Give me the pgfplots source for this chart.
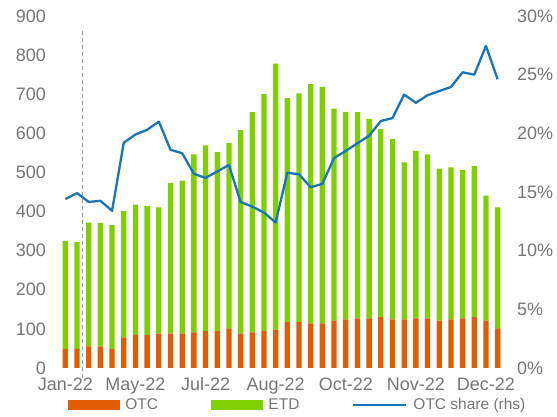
\documentclass[border=0pt]{standalone}
\usepackage{pgfplots}
\pgfplotsset{compat=1.18}
\usepackage{fontspec}
\setmainfont{Liberation Sans}
\definecolor{otc}{RGB}{226,92,2}
\definecolor{etd}{RGB}{126,208,0}
\definecolor{shr}{RGB}{24,118,184}
\definecolor{tk}{RGB}{118,118,118}
\definecolor{dashg}{RGB}{160,160,160}
\begin{document}
\begin{tikzpicture}
\path[use as bounding box] (0,0) rectangle (557pt,417pt);
\pgfplotsset{
  common/.style={
    at={(59.5pt,49pt)}, anchor=south west,
    scale only axis, width=444pt, height=352pt,
    xmin=-0.5, xmax=37.5,
    axis line style={draw=none}, major tick length=0pt,
    ticklabel style={font=\fontsize{18}{20}\selectfont, text=tk},
    /pgf/number format/assume math mode=true,
  }
}
\begin{axis}[common,
  ybar stacked, bar width=5.3pt,
  ymin=0, ymax=900, ytick={0,100,...,900},
  xtick={0,6,...,36},
  xticklabels={Jan-22,May-22,Jul-22,Aug-22,Oct-22,Nov-22,Dec-22},
  yticklabel style={xshift=-10pt},
  xticklabel style={yshift=-6pt},
]
\addplot[fill=otc, draw=none] coordinates {
(0,49) (1,49) (2,55) (3,55) (4,49) (5,78) (6,85) (7,85) (8,88) (9,88)
(10,88) (11,91) (12,94) (13,94) (14,101) (15,88) (16,91) (17,94) (18,98) (19,117)
(20,117) (21,114) (22,114) (23,121) (24,124) (25,127) (26,127) (27,130) (28,124) (29,124)
(30,127) (31,127) (32,121) (33,124) (34,127) (35,130) (36,121) (37,101)};
\addplot[fill=etd, draw=none] coordinates {
(0,276) (1,273) (2,317) (3,316) (4,316) (5,323) (6,333) (7,329) (8,323) (9,385)
(10,391) (11,455) (12,475) (13,458) (14,474) (15,520) (16,563) (17,606) (18,680) (19,573)
(20,585) (21,612) (22,605) (23,542) (24,530) (25,527) (26,510) (27,481) (28,461) (29,402)
(30,428) (31,419) (32,389) (33,389) (34,379) (35,387) (36,320) (37,310)};
\end{axis}
\begin{axis}[common,
  clip=false,
  ymin=0, ymax=30, ytick={0,5,...,30},
  yticklabel={\pgfmathprintnumber{\tick}\%},
  yticklabel pos=right,
  yticklabel style={xshift=10pt},
  xtick=\empty,
  legend columns=3,
  legend style={at={(0.019,-0.105)}, anchor=west, draw=none, fill=none,
    inner sep=0pt, outer sep=0pt,
    font=\fontsize{15.5}{18}\selectfont, text=tk,
    nodes={inner sep=0pt, anchor=west},
    /tikz/every odd column/.append style={column sep=6pt},
    /tikz/every even column/.append style={column sep=53pt}},
]
\addplot[dashg, line width=1.2pt, dash pattern=on 4pt off 3pt, forget plot] coordinates {(1.5,-0.85) (1.5,28.8)};
\addlegendimage{legend image code/.code={\fill[otc] (0pt,-4.5pt) rectangle (51pt,4.5pt);}}
\addlegendentry{OTC}
\addlegendimage{legend image code/.code={\fill[etd] (0pt,-4.5pt) rectangle (51pt,4.5pt);}}
\addlegendentry{ETD}
\addplot[shr, line width=2.3pt, line join=round,
  legend image code/.code={\draw[shr, line width=2pt] (0pt,0pt) -- (53pt,0pt);}] coordinates {
(0,14.4) (1,14.9) (2,14.15) (3,14.25) (4,13.4) (5,19.2) (6,19.9) (7,20.3) (8,21.0) (9,18.6)
(10,18.3) (11,16.55) (12,16.2) (13,16.75) (14,17.3) (15,14.15) (16,13.75) (17,13.25) (18,12.4) (19,16.65)
(20,16.5) (21,15.4) (22,15.7) (23,17.9) (24,18.5) (25,19.15) (26,19.8) (27,21.05) (28,21.3) (29,23.3)
(30,22.6) (31,23.25) (32,23.6) (33,23.95) (34,25.2) (35,25.0) (36,27.45) (37,24.6)};
\addlegendentry{OTC share (rhs)}
\end{axis}
\end{tikzpicture}
\end{document}
